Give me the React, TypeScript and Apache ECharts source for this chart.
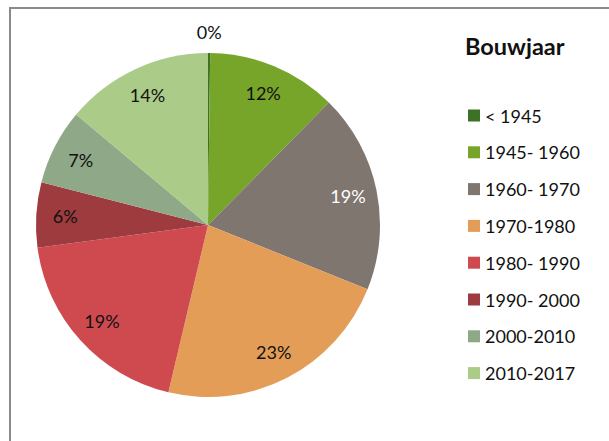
import React, { useEffect, useRef } from "react";
import * as echarts from "echarts";

const categories = ["< 1945", "1945- 1960", "1960- 1970", "1970-1980", "1980- 1990", "1990- 2000", "2000-2010", "2010-2017"];
const values = [0.2, 12.2, 18.7, 22.6, 19.2, 6.1, 7.1, 13.9];
const colors = ["#3b7226", "#77a52a", "#7f7670", "#e39d56", "#cf4a4f", "#9d3b3e", "#8fa887", "#abcb88"];
const labelColors = ["#111", "#111", "#fff", "#111", "#111", "#111", "#111", "#111"];
const legendTitle = "Bouwjaar";

const FONT = "Lato";

export default function App() {
  const ref = useRef<HTMLDivElement>(null);
  useEffect(() => {
    if (!ref.current) return;
    const chart = echarts.init(ref.current, undefined, { renderer: "svg" });
    const fmt = (p: any) => Math.round(p.percent) + "%";
    const base = {
      type: "pie",
      center: [208, 225],
      startAngle: 90,
      clockwise: true,
      silent: true,
      legendHoverLink: false,
    };
    chart.setOption({
      animation: false,
      backgroundColor: "#fff",
      graphic: [
        {
          type: "rect",
          shape: { x: 10, y: 8, width: 700, height: 500 },
          style: { fill: "none", stroke: "#8a8a8a", lineWidth: 2 },
          silent: true,
          z: 0,
        },
        {
          type: "text",
          left: 465,
          top: 34,
          style: { text: legendTitle, font: `bold 23.5px ${FONT}`, fill: "#111" },
        },
      ],
      legend: {
        orient: "vertical",
        left: 463,
        top: 100.5,
        itemWidth: 12,
        itemHeight: 12,
        itemGap: 16.8,
        icon: "rect",
        textStyle: { fontFamily: FONT, fontSize: 18, color: "#111", lineHeight: 20 },
        data: categories.map((c, i) => ({ name: c, itemStyle: { color: colors[i], opacity: 1 } })),
      },
      series: [
        {
          ...base,
          radius: 172,
          label: { show: false },
          labelLine: { show: false },
          itemStyle: { borderWidth: 0 },
          data: categories.map((c, i) => ({ name: c, value: values[i], itemStyle: { color: colors[i] } })),
        },
        {
          ...base,
          radius: [108, 172],
          itemStyle: { color: "rgba(0,0,0,0)", borderWidth: 0 },
          label: { show: true, position: "inside", formatter: fmt, fontFamily: FONT, fontSize: 18 },
          labelLine: { show: false },
          data: categories.map((c, i) => ({
            name: c,
            value: values[i],
            label: { show: i !== 0, color: labelColors[i] },
          })),
        },
        {
          ...base,
          radius: [180, 200],
          itemStyle: { color: "rgba(0,0,0,0)", borderWidth: 0 },
          label: { show: true, position: "inside", formatter: fmt, fontFamily: FONT, fontSize: 18 },
          labelLine: { show: false },
          data: categories.map((c, i) => ({
            name: c,
            value: values[i],
            label: { show: i === 0, color: labelColors[i] },
          })),
        },
      ],
    });
    return () => chart.dispose();
  }, []);
  return <div ref={ref} style={{ position: "absolute", left: 0, top: 0, width: 609, height: 441 }} />;
}
